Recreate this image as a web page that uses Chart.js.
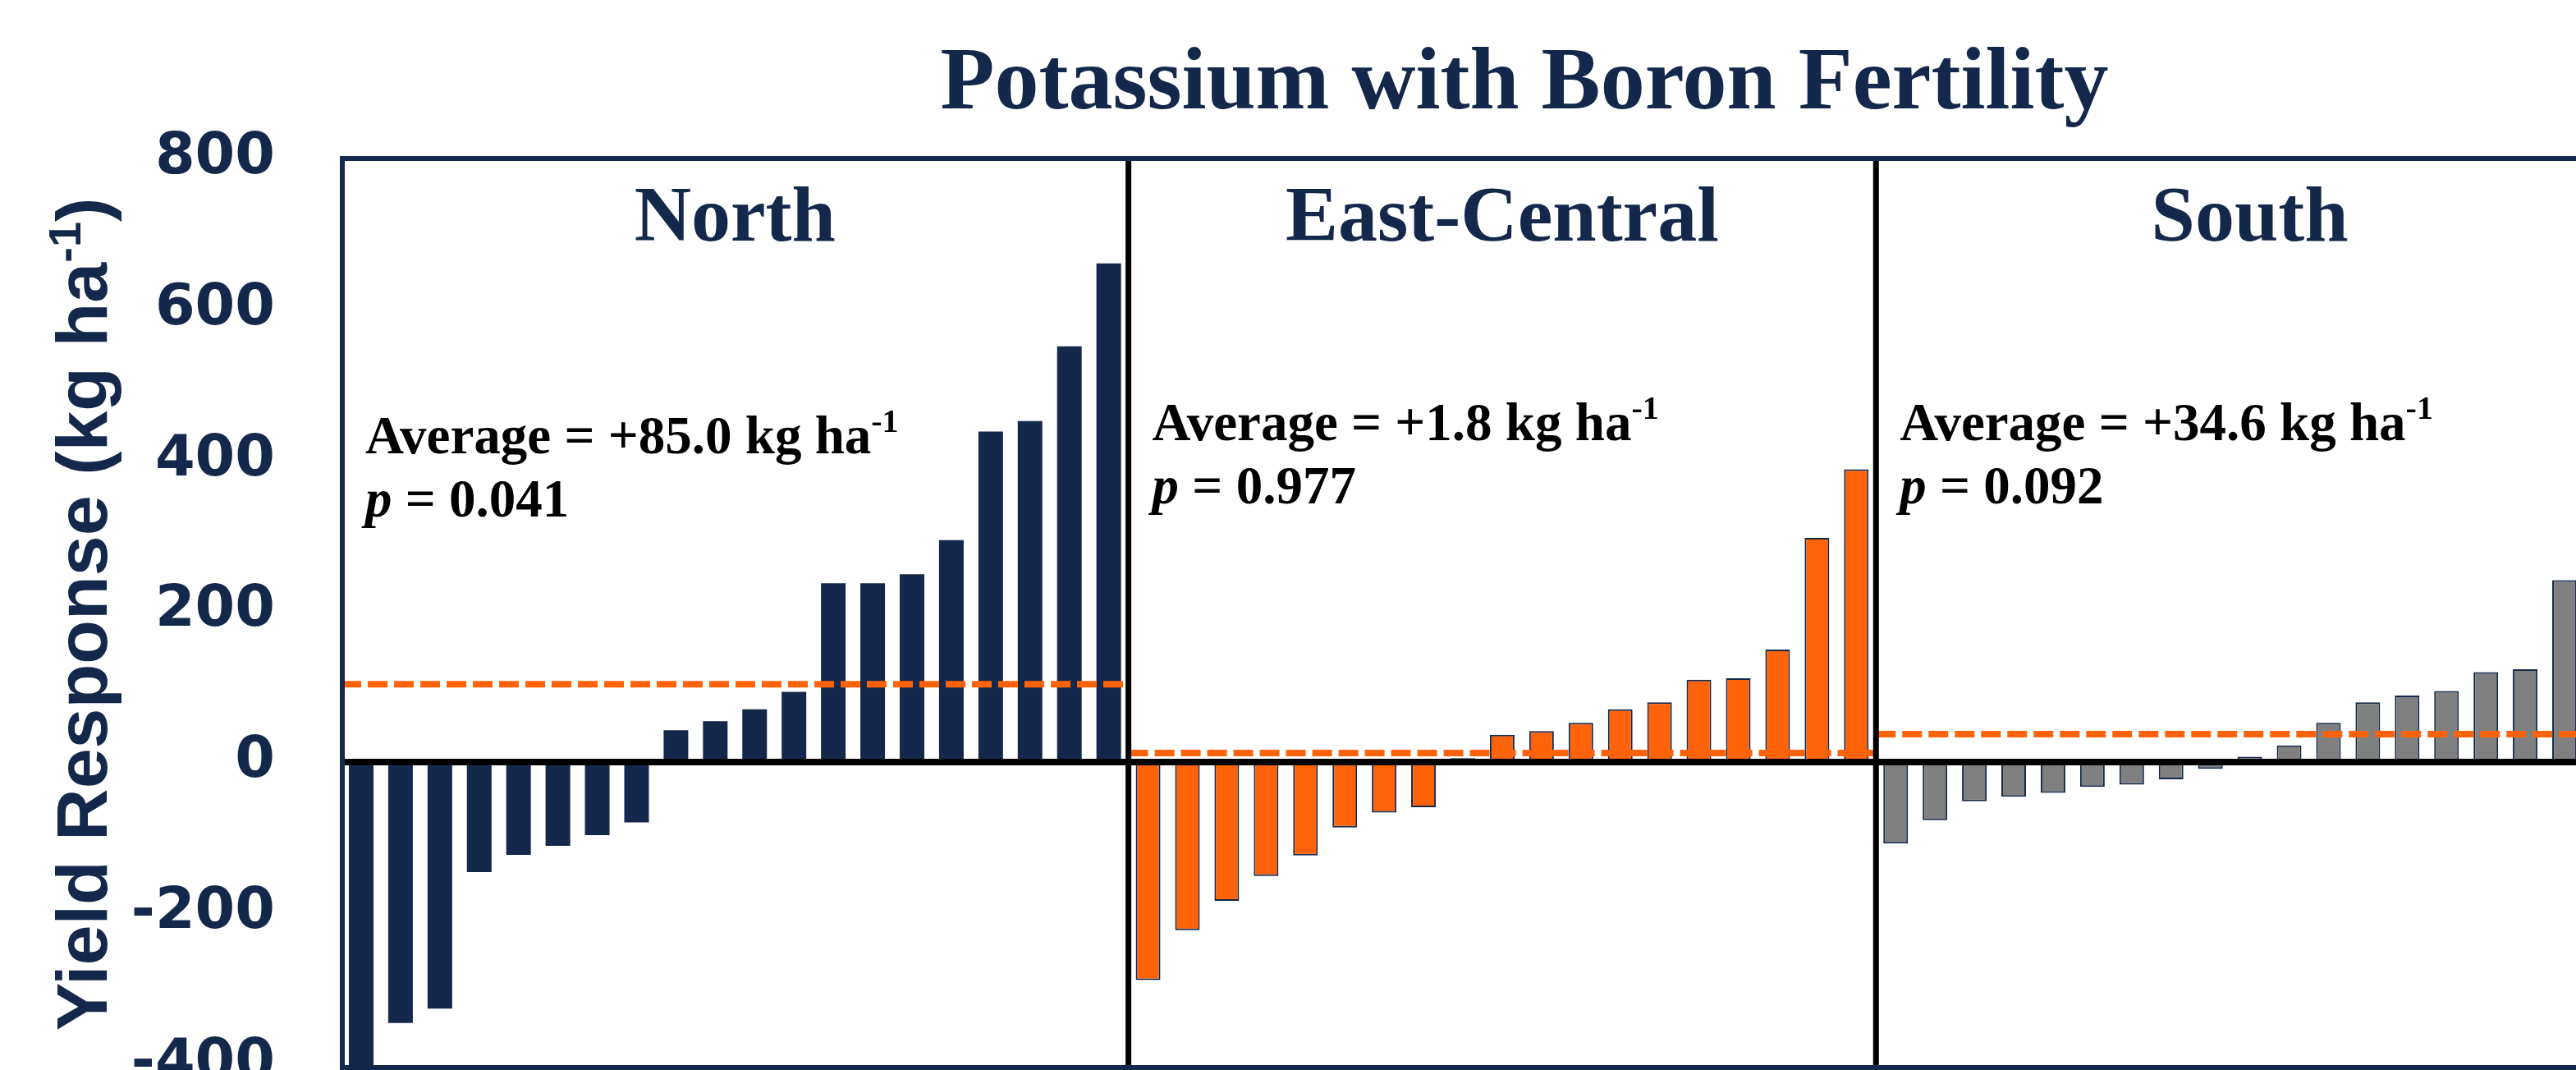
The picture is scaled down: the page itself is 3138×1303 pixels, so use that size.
<!DOCTYPE html>
<html>
<head>
<meta charset="utf-8">
<script src="https://cdn.jsdelivr.net/npm/chart.js@4.4.1/dist/chart.umd.min.js"></script>
<style>
  html, body { margin: 0; padding: 0; background: #fff; overflow: hidden; width: 3138px; height: 1303px; }
  #wrap { position: relative; width: 3150px; height: 1303px; }
</style>
</head>
<body>
<div id="wrap"><canvas id="boronChart" width="3150" height="1303"></canvas></div>
<script>
// yield response per site, sorted low -> high (kg/ha)
const northVals = [-445, -346, -327, -146, -123, -111, -97, -80, 42, 54, 70, 93, 237, 237, 249, 294, 438, 452, 551, 661];
const eastVals = [-289, -223, -184, -151, -124, -87, -67, -60, 5, 36, 41, 52, 70, 79, 109, 111, 149, 297, 388];
const southVals = [-108, -77, -52, -46, -41, -33, -30, -23, -9, 7, 22, 52, 79, 88, 94, 119, 123, 241];

const regions = ['North', 'East-Central', 'South'];
const avgText = ['+85.0', '+1.8', '+34.6'];
const pText = ['0.041', '0.977', '0.092'];
// level where the dashed average line is drawn in the figure
const avgLineLevel = [103, 12, 37];
const yTicks = [800, 600, 400, 200, 0, -200, -400];

const NAVY = '#14284B';
const ORANGE = '#FF6309';
const GREY = '#808080';
const SERIF = '"Liberation Serif", "Times New Roman", serif';

// South panel is cropped in the figure; it was laid out for 19 sites
const southSlots = 19;

const nN = northVals.length, nE = eastVals.length, nS = southVals.length;
const total = nN + nE + nS;
const labels = [];
northVals.forEach((v, i) => labels.push('North ' + (i + 1)));
eastVals.forEach((v, i) => labels.push('East-Central ' + (i + 1)));
southVals.forEach((v, i) => labels.push('South ' + (i + 1)));

function pad(before, vals, after) {
    return Array(before).fill(null).concat(vals, Array(after).fill(null));
}

const starts = [0, nN, nN + nE];
const ends = [nN, nN + nE, total];

function drawRich(ctx, x, y, parts) {
    let cx = x;
    parts.forEach(p => {
        ctx.font = p.font;
        ctx.fillText(p.t, cx, y + (p.dy || 0));
        cx += ctx.measureText(p.t).width + (p.gap || 0);
    });
}
function richWidth(ctx, parts) {
    let w = 0;
    parts.forEach(p => { ctx.font = p.font; w += ctx.measureText(p.t).width + (p.gap || 0); });
    return w;
}

const framePlugin = {
    id: 'frame',
    afterDatasetsDraw(chart) {
        const ctx = chart.ctx;
        const a = chart.chartArea;
        const y = chart.scales.y;
        const xl = chart.scales.xl;
        ctx.save();
        // zero line
        ctx.strokeStyle = '#000';
        ctx.lineWidth = 8;
        ctx.beginPath();
        ctx.moveTo(a.left, y.getPixelForValue(0));
        ctx.lineTo(a.right, y.getPixelForValue(0));
        ctx.stroke();
        // panel dividers
        ctx.lineWidth = 7;
        [starts[1], starts[2]].forEach(s => {
            const px = xl.getPixelForValue(s);
            ctx.beginPath();
            ctx.moveTo(px, a.top);
            ctx.lineTo(px, a.bottom);
            ctx.stroke();
        });
        // outer border
        ctx.strokeStyle = NAVY;
        ctx.lineWidth = 6;
        ctx.strokeRect(a.left + 1, a.top, a.right - a.left, a.bottom - a.top);
        ctx.restore();
    },
    afterDraw(chart) {
        const ctx = chart.ctx;
        const xl = chart.scales.xl;
        ctx.save();
        ctx.fillStyle = NAVY;
        ctx.textBaseline = 'alphabetic';

        // main title
        ctx.textAlign = 'center';
        ctx.font = 'bold 108px ' + SERIF;
        ctx.fillText('Potassium with Boron Fertility', 1857, 132);

        // panel titles
        ctx.font = 'bold 96px ' + SERIF;
        const panelEnds = [ends[0], ends[1], starts[2] + southSlots];
        regions.forEach((r, i) => {
            const cx = (xl.getPixelForValue(starts[i]) + xl.getPixelForValue(panelEnds[i])) / 2;
            ctx.fillText(r, cx, 293);
        });

        // y axis title, rotated, with superscript
        ctx.textAlign = 'left';
        const tParts = [
            { t: 'Yield Response (kg ha', font: 'bold 88px "Liberation Sans", Arial, sans-serif' },
            { t: '-1', font: 'bold 56px "Liberation Sans", Arial, sans-serif', dy: -32 },
            { t: ')', font: 'bold 88px "Liberation Sans", Arial, sans-serif' }
        ];
        ctx.save();
        ctx.translate(130, 748);
        ctx.rotate(-Math.PI / 2);
        drawRich(ctx, -richWidth(ctx, tParts) / 2, 0, tParts);
        ctx.restore();

        // averages and p values
        ctx.fillStyle = '#000';
        const base1 = [552, 536, 536];
        regions.forEach((r, i) => {
            const left = xl.getPixelForValue(starts[i]) + 29;
            drawRich(ctx, left, base1[i], [
                { t: 'Average = ' + avgText[i] + ' kg ha', font: 'bold 65px ' + SERIF },
                { t: '-1', font: 'bold 40px ' + SERIF, dy: -26 }
            ]);
            drawRich(ctx, left, base1[i] + 77, [
                { t: 'p', font: 'italic bold 65px ' + SERIF },
                { t: ' = ' + pText[i], font: 'bold 65px ' + SERIF }
            ]);
        });
        ctx.restore();
    }
};

const barCommon = {
    type: 'bar',
    xAxisID: 'x',
    yAxisID: 'y',
    grouped: false,
    barPercentage: 0.626,
    categoryPercentage: 1.0,
    order: 2
};

const datasets = [
    Object.assign({}, barCommon, {
        label: 'North',
        data: pad(0, northVals, nE + nS),
        backgroundColor: NAVY,
        borderWidth: 0
    }),
    Object.assign({}, barCommon, {
        label: 'East-Central',
        data: pad(nN, eastVals, nS),
        backgroundColor: ORANGE,
        borderColor: NAVY,
        borderWidth: 2
    }),
    Object.assign({}, barCommon, {
        label: 'South',
        data: pad(nN + nE, southVals, 0),
        backgroundColor: GREY,
        borderColor: NAVY,
        borderWidth: 2
    })
];

regions.forEach((r, i) => {
    datasets.push({
        type: 'line',
        label: r + ' average',
        xAxisID: 'xl',
        yAxisID: 'y',
        data: [{ x: starts[i], y: avgLineLevel[i] }, { x: ends[i], y: avgLineLevel[i] }],
        borderColor: ORANGE,
        borderWidth: 8,
        borderDash: [24, 8],
        pointRadius: 0,
        fill: false,
        order: 1
    });
});

const ctx = document.getElementById('boronChart').getContext('2d');
const boronChart = new Chart(ctx, {
    data: { labels: labels, datasets: datasets },
    options: {
        responsive: false,
        animation: false,
        devicePixelRatio: 1,
        layout: { padding: { top: 193, bottom: 3, left: 0, right: 2 } },
        plugins: {
            legend: { display: false },
            tooltip: { enabled: false },
            title: { display: false }
        },
        scales: {
            x: {
                type: 'category',
                display: false,
                offset: true
            },
            xl: {
                type: 'linear',
                display: false,
                min: 0,
                max: total
            },
            y: {
                type: 'linear',
                position: 'left',
                min: -405,
                max: 800,
                afterFit: function (scale) {
                    scale.width = 416;
                    // labels may run past the plot edges, as in the figure
                    scale.paddingTop = 0;
                    scale.paddingBottom = 0;
                },
                afterBuildTicks: function (scale) {
                    scale.ticks = yTicks.map(v => ({ value: v }));
                },
                grid: { display: false, drawTicks: false },
                border: { display: false },
                ticks: {
                    padding: 81,
                    color: NAVY,
                    font: { family: '"DejaVu Sans", sans-serif', weight: 'bold', size: 70 }
                }
            }
        }
    },
    plugins: [framePlugin]
});
</script>
</body>
</html>
